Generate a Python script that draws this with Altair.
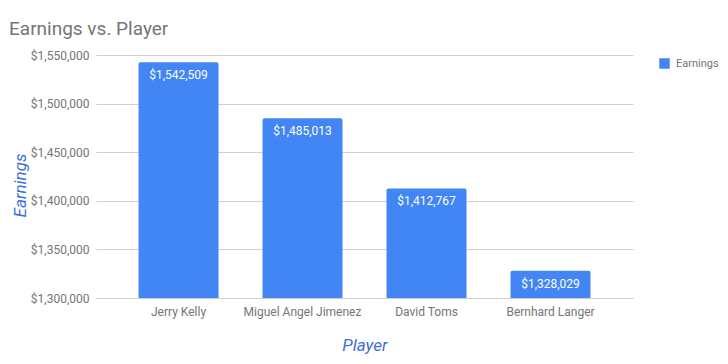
import altair as alt
import pandas as pd

players = ["Jerry Kelly", "Miguel Angel Jimenez", "David Toms", "Bernhard Langer"]
earnings = [1542509, 1485013, 1412767, 1328029]
series = ["Earnings"] * 4
y_ticks = [1300000, 1350000, 1400000, 1450000, 1500000, 1550000]
y_min, y_max = 1300000, 1550000

df = pd.DataFrame({"Player": players, "Earnings": earnings, "Series": series})
df["Label"] = ["$" + f"{v:,}" for v in earnings]

FONT = "Roboto"
BLUE = "#4285F4"
GREY = "#757575"
AXIS_BLUE = "#3d6fd6"

x = alt.X("Player:N", sort=players,
          scale=alt.Scale(paddingInner=0.355, paddingOuter=0.343),
          axis=alt.Axis(title="Player", labelAngle=0, labelFont=FONT, labelFontSize=12,
                        labelColor=GREY, labelPadding=8, ticks=False, domain=False,
                        titleFont=FONT, titleFontSize=17, titleFontStyle="italic",
                        titleFontWeight="normal", titleColor=AXIS_BLUE, titlePadding=20))
y = alt.Y("Earnings:Q",
          scale=alt.Scale(domain=[y_min, y_max], nice=False, zero=False),
          axis=alt.Axis(title="Earnings", values=y_ticks, format="$,d", labelFont=FONT,
                        labelFontSize=12, labelColor=GREY, labelPadding=7, ticks=False,
                        domain=False, gridColor="#d0d0d0", titleFont=FONT, titleFontSize=17,
                        titleFontStyle="italic", titleFontWeight="normal", titleColor=AXIS_BLUE,
                        titleAngle=-90, titleX=-71, titleY=130, titleAlign="center",
                        titleBaseline="alphabetic"))

bars = alt.Chart(df).mark_bar(cornerRadiusTopLeft=2, cornerRadiusTopRight=2).encode(
    x=x, y=y, y2=alt.datum(y_min),
    color=alt.Color("Series:N", scale=alt.Scale(range=[BLUE]),
                    legend=alt.Legend(title=None, orient="none", legendX=563, legendY=3,
                                      symbolType="square", symbolSize=110, symbolStrokeWidth=0,
                                      symbolOpacity=1, labelFont=FONT, labelFontSize=11,
                                      labelColor=GREY, labelOffset=6, padding=0))
)

labels = alt.Chart(df).mark_text(font=FONT, fontSize=12, color="white", dy=13,
                                 baseline="middle").encode(
    x=alt.X("Player:N", sort=players), y="Earnings:Q", text="Label:N"
)

chart = alt.layer(bars, labels).properties(
    width=537, height=243,
    title=alt.TitleParams("Earnings vs. Player", anchor="start", frame="group", dx=-87,
                          offset=10, font=FONT, fontSize=19, fontWeight="normal", color=GREY),
    autosize=alt.AutoSizeParams(type="none"),
    padding={"left": 88, "top": 47, "right": 87, "bottom": 58},
).configure_view(stroke=None)

chart.save("out.html", embed_options={"renderer": "svg", "actions": False})
